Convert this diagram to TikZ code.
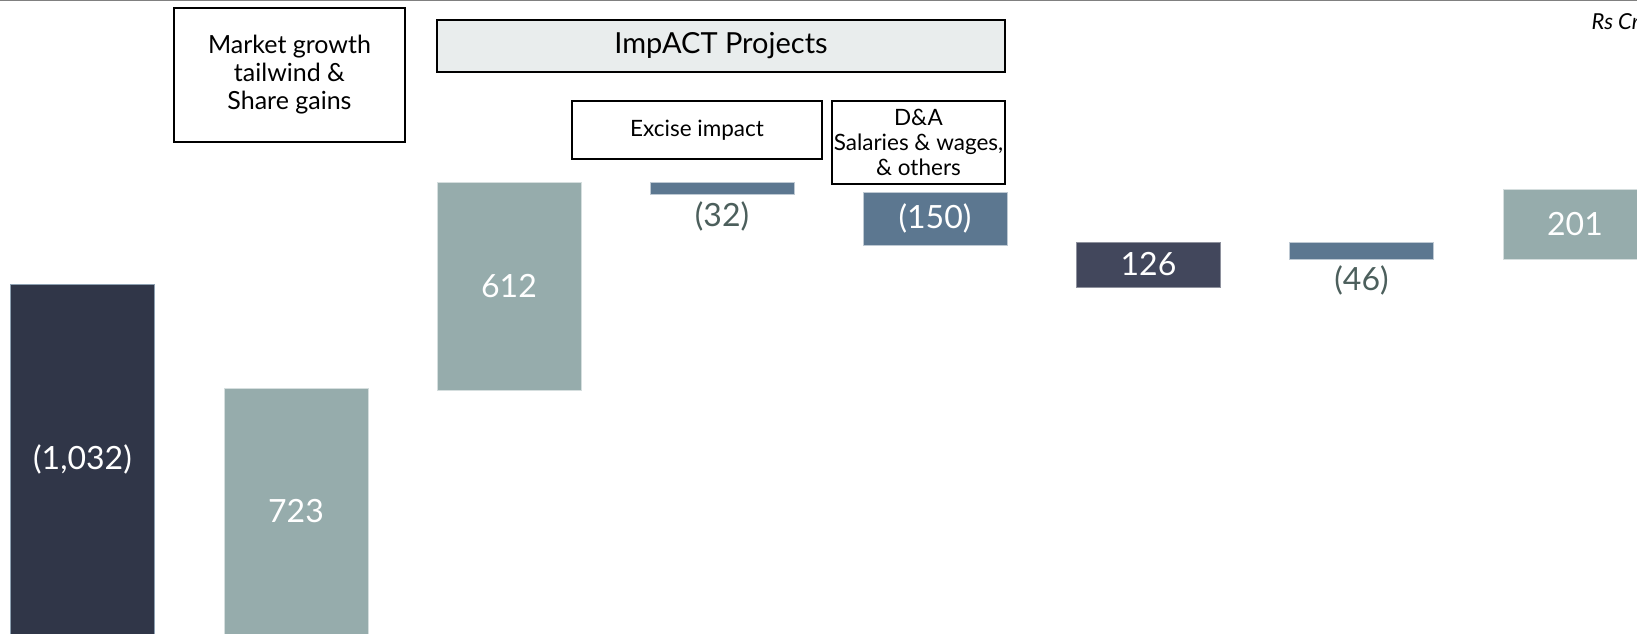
\documentclass[tikz,border=0pt]{standalone}
\usepackage{fontspec}
\setmainfont{Lato}
\usepackage{xcolor}
\usepackage{tikz}
\usetikzlibrary{positioning,calc}

\definecolor{barDark}{HTML}{303648}
\definecolor{barSlate}{HTML}{42475C}
\definecolor{barTeal}{HTML}{96ACAC}
\definecolor{barBlue}{HTML}{5C7790}
\definecolor{lblGrey}{HTML}{4C5F5C}
\definecolor{hdrFill}{HTML}{E9EDED}

\begin{document}
\begin{tikzpicture}[
    x=1pt, y=-1pt,
    bar/.style={minimum width=144pt, inner sep=0pt, text=white,
        font=\fontsize{32}{35}\selectfont},
    darkbar/.style={bar, fill=barDark, draw=barBlue!70, line width=0.8pt},
    slatebar/.style={bar, fill=barSlate, draw=barSlate!60, line width=0.6pt},
    tealbar/.style={bar, fill=barTeal, draw=barTeal!40, line width=0.6pt},
    bluebar/.style={bar, fill=barBlue, draw=barBlue!40, line width=0.6pt},
    negval/.style={text=lblGrey, inner sep=0pt, font=\fontsize{32}{35}\selectfont},
    tagbox/.style={draw=black, line width=1.6pt, inner sep=0pt, align=center,
        font=\fontsize{22.5}{25}\selectfont}
]
\useasboundingbox (0,0) rectangle (1637,633);
\draw[gray, line width=2pt] (0,0) -- (1637,0);
\node[anchor=west, font=\fontsize{22}{24}\selectfont\itshape] (unit) at (1588,22) {Rs Cr};

% header boxes
\node[tagbox, minimum width=231pt, minimum height=134pt,
      font=\fontsize{25}{28}\selectfont] (growth) at (289.5,75)
      {Market growth\\tailwind \&\\Share gains};
\node[tagbox, fill=hdrFill, minimum width=568pt, minimum height=52pt,
      font=\fontsize{29}{32}\selectfont] (impact) at (721,46) {ImpACT Projects};
\node[tagbox, minimum width=250pt, minimum height=58pt] (excise) at (697,130) {Excise impact};
\node[tagbox, minimum width=173pt, minimum height=83pt] (dna) at (918.5,142.5)
      {D\&A\\Salaries \& wages,\\\& others};

% waterfall bars
\node[darkbar, minimum height=350pt] (start) at (82.5,459) {(1,032)};
\node[tealbar, minimum height=246pt] (growthbar) at (296,511) {723};
\node[tealbar, minimum height=208pt] (projects) at (509,286) {612};
\node[bluebar, minimum height=12pt] (excisebar) at (722,188) {};
\node[negval] (exciseval) at (722,216) {(32)};
\node[bluebar, minimum height=53pt] (costs) at (935,218.5) {(150)};
\node[slatebar, minimum height=45pt] (mid) at (1148.5,264.5) {126};
\node[bluebar, minimum height=17pt] (otherbar) at (1361.5,250.5) {};
\node[negval] (otherval) at (1361.5,280) {(46)};
\node[tealbar, minimum height=70pt] (final) at (1575,224) {201};
\end{tikzpicture}
\end{document}
